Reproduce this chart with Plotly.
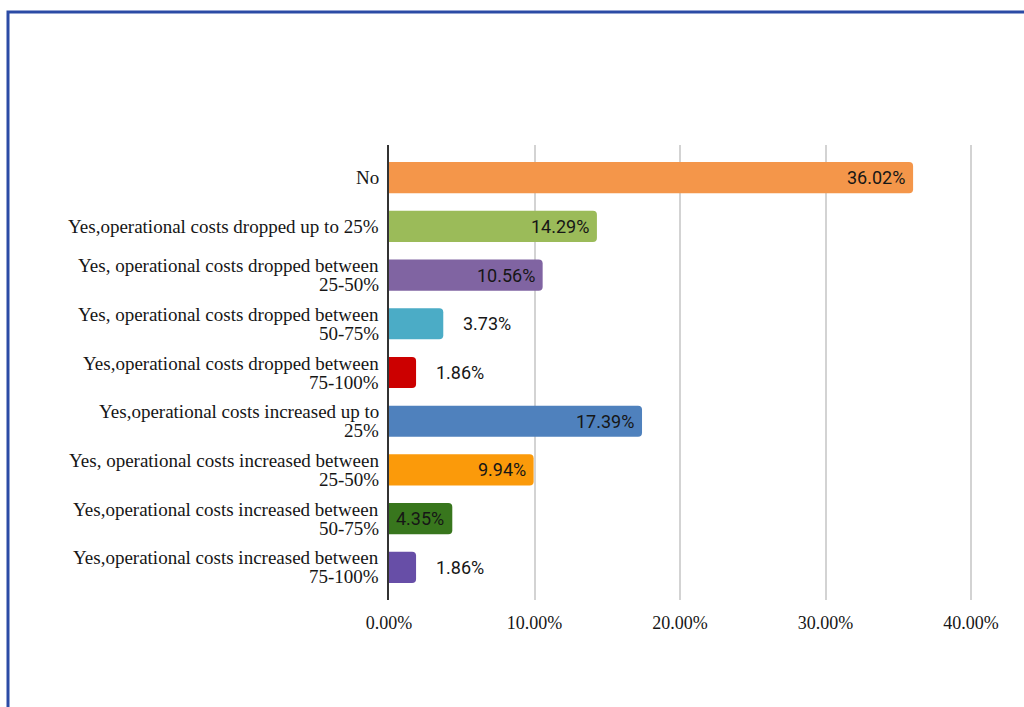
import plotly.graph_objects as go

categories = [
    "No",
    "Yes,operational costs dropped up to 25%",
    "Yes, operational costs dropped between<br>25-50%",
    "Yes, operational costs dropped between<br>50-75%",
    "Yes,operational costs dropped between<br>75-100%",
    "Yes,operational costs increased up to<br>25%",
    "Yes, operational costs increased between<br>25-50%",
    "Yes,operational costs increased between<br>50-75%",
    "Yes,operational costs increased between<br>75-100%",
]
values = [36.02, 14.29, 10.56, 3.73, 1.86, 17.39, 9.94, 4.35, 1.86]
bar_colors = ["#F4964A", "#9BBB59", "#8064A2", "#4BACC6", "#CC0000",
              "#4F81BD", "#FB9A0A", "#38761D", "#674EA7"]
label_inside = [True, True, True, False, False, True, True, True, False]
x_ticks = [0, 10, 20, 30, 40]
x_tick_labels = ["0.00%", "10.00%", "20.00%", "30.00%", "40.00%"]

# plot area in pixels
W, H = 1024, 707
L, R, T, B = 389, 979, 145, 600

SERIF = "Liberation Serif, Times New Roman, serif"
TEXT = "#161616"

fig = go.Figure(go.Bar(
    x=values,
    y=categories,
    orientation="h",
    marker=dict(color=bar_colors, line=dict(width=0), cornerradius=4),
    width=0.64,
    hoverinfo="skip",
))

# value labels
for cat, v, inside in zip(categories, values, label_inside):
    fig.add_annotation(
        x=v, y=cat, xref="x", yref="y",
        text=f"{v:.2f}%",
        showarrow=False,
        xanchor="right" if inside else "left",
        xshift=-6 if inside else 18,
        font=dict(family="Roboto, sans-serif", size=18, color=TEXT),
    )

# category labels, one annotation per line for tight line spacing
LINE_GAP = 19
for cat in categories:
    lines = cat.split("<br>")
    n = len(lines)
    for i, line in enumerate(lines):
        offset = ((n - 1) / 2 - i) * LINE_GAP
        fig.add_annotation(
            x=0, y=cat, xref="x", yref="y",
            text=line,
            showarrow=False,
            xanchor="right", yanchor="middle",
            xshift=-8, yshift=offset,
            font=dict(family=SERIF, size=19, color=TEXT),
        )

def px_x(p):
    return (p - L) / (R - L)

def px_y(p):
    return (B - p) / (B - T)

# blue frame around the figure
fig.add_shape(
    type="rect", xref="paper", yref="paper",
    x0=px_x(8), x1=px_x(1040), y0=px_y(720), y1=px_y(12),
    line=dict(color="#2B4BA5", width=3),
    fillcolor="rgba(0,0,0,0)", layer="above",
)

fig.update_layout(
    width=W, height=H,
    margin=dict(l=L, r=W - R, t=T, b=H - B, pad=0),
    paper_bgcolor="white",
    plot_bgcolor="white",
    showlegend=False,
    font=dict(family=SERIF, size=18, color=TEXT),
    xaxis=dict(
        range=[0, 40.55],
        tickvals=x_ticks,
        ticktext=x_tick_labels,
        showgrid=True,
        gridcolor="#D3D3D3",
        gridwidth=1.5,
        zeroline=False,
        showline=False,
        ticks="",
        ticklabelstandoff=10,
        tickfont=dict(family=SERIF, size=18, color=TEXT),
        fixedrange=True,
    ),
    yaxis=dict(
        categoryorder="array",
        categoryarray=categories,
        autorange=False,
        range=[8.67, -0.67],
        showgrid=False,
        zeroline=False,
        showline=True,
        linecolor="#333333",
        linewidth=1.5,
        ticks="",
        showticklabels=False,
        fixedrange=True,
    ),
)

fig.write_html("out.html")
